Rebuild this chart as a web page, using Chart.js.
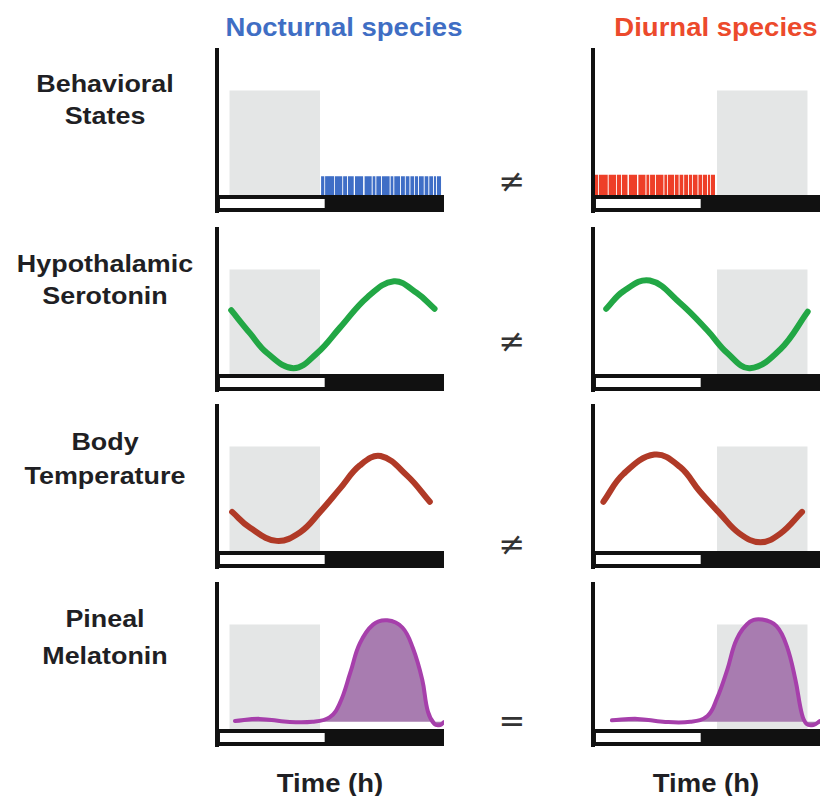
<!DOCTYPE html>
<html>
<head>
<meta charset="utf-8">
<script src="https://cdn.jsdelivr.net/npm/chart.js"></script>
<style>
  html, body { margin: 0; padding: 0; background: #fff; }
  #fig { position: relative; width: 822px; height: 796px; overflow: hidden;
         font-family: "Liberation Sans", Arial, sans-serif; }
  .t { position: absolute; width: 300px; text-align: center; font-weight: bold;
       white-space: nowrap; line-height: 1; transform: scaleX(1.12); color: #1f1f24; }
  .sym { position: absolute; width: 60px; text-align: center; font-family: "DejaVu Sans";
         font-size: 32px; line-height: 1; color: #333; }
  canvas { position: absolute; }
</style>
</head>
<body>
<div id="fig">
  <div class="t" style="left:194px;top:15px;font-size:25px;color:#3f6ec4;transform:scaleX(1.1)">Nocturnal species</div>
  <div class="t" style="left:566px;top:15px;font-size:25px;color:#ec4a2c;transform:scaleX(1.1)">Diurnal species</div>

  <div class="t" style="left:-45px;top:72px;font-size:24px">Behavioral</div>
  <div class="t" style="left:-45px;top:104px;font-size:24px">States</div>
  <div class="t" style="left:-45px;top:252px;font-size:24px">Hypothalamic</div>
  <div class="t" style="left:-45px;top:284px;font-size:24px">Serotonin</div>
  <div class="t" style="left:-45px;top:430px;font-size:24px">Body</div>
  <div class="t" style="left:-45px;top:464px;font-size:24px">Temperature</div>
  <div class="t" style="left:-45px;top:607px;font-size:24px">Pineal</div>
  <div class="t" style="left:-45px;top:644px;font-size:24px">Melatonin</div>

  <div class="sym" style="left:482px;top:165px">≠</div>
  <div class="sym" style="left:482px;top:325px">≠</div>
  <div class="sym" style="left:482px;top:528px">≠</div>
  <div class="sym" style="left:482px;top:705px">=</div>

  <div class="t" style="left:180px;top:771px;font-size:25px;transform:scaleX(1.1)">Time (h)</div>
  <div class="t" style="left:556px;top:771px;font-size:25px;transform:scaleX(1.1)">Time (h)</div>
</div>

<script>
// time axis in hours, value axis in arbitrary units (0 = top of light/dark bar)
const X_MAX = 24;
const Y_MIN = -11.7;
const Y_MAX = 100;

const LIGHT_PHASE = [0.3, 11.4];          // white part of the light/dark bar
const LIGHT_BOX_Y = [-2.8, -9];
const NOCT_SLEEP = [1.3, 10.9];
const DIUR_SLEEP = [13.1, 22.7];
const SLEEP_TOP = 72;

// wake activity bouts [start, end] in hours
const NOCT_WAKE = [
  [11.0, 11.37], [11.43, 12.37], [12.43, 13.27], [13.33, 13.77], [13.83, 14.47],
  [14.58, 15.47], [15.58, 16.37], [16.43, 16.77], [16.83, 17.37], [17.43, 18.27],
  [18.33, 18.67], [18.73, 19.37], [19.43, 19.87], [19.93, 20.37], [20.43, 20.87],
  [20.93, 21.27], [21.33, 21.87], [21.93, 22.37], [22.43, 22.87], [22.93, 23.17],
  [23.23, 23.7],
];
const DIUR_WAKE = [
  [0.2, 0.57], [0.63, 1.57], [1.63, 2.47], [2.53, 2.97], [3.03, 3.67],
  [3.78, 4.67], [4.78, 5.57], [5.63, 5.97], [6.03, 6.57], [6.63, 7.47],
  [7.53, 7.87], [7.93, 8.57], [8.63, 9.07], [9.13, 9.57], [9.63, 10.07],
  [10.13, 10.47], [10.53, 11.07], [11.13, 11.57], [11.63, 12.07], [12.13, 12.37],
  [12.43, 12.9],
];
const NOCT_WAKE_H = 13;
const DIUR_WAKE_H = 14;

// curves [hour, level]
const NOCT_SEROTONIN = [
  [1.5, 44], [3.5, 28], [5.3, 14.5], [8.1, 4], [10.6, 14.5],
  [13.0, 32], [15.9, 53], [18.7, 64], [21.1, 56], [23.0, 45],
];
const DIUR_SEROTONIN = [
  [1.4, 45], [3.2, 57], [6.0, 64.5], [9.2, 49], [12.1, 30],
  [14.2, 14.5], [16.6, 4], [19.8, 17], [22.7, 43],
];
const NOCT_TEMP = [
  [1.6, 27], [3.5, 16], [6.3, 7], [8.8, 13], [10.9, 27],
  [13.0, 43], [15.1, 59], [17.3, 65.5], [20.1, 52], [22.5, 34],
];
const DIUR_TEMP = [
  [1.1, 34], [3.2, 53], [6.5, 66.5], [9.2, 58], [11.3, 41],
  [13.4, 26], [15.5, 12], [17.7, 6], [19.8, 12], [22.1, 27],
];
const NOCT_MELATONIN = [
  [1.9, 5.5], [4.5, 7], [7.4, 5], [10.1, 5], [11.9, 8], [13.0, 18],
  [14.1, 39], [15.1, 59], [16.5, 72], [18.0, 75], [19.6, 70], [20.7, 56],
  [21.7, 34], [22.3, 12], [23.0, 3.4], [23.6, 2.8], [24.0, 4.8],
];
const DIUR_MELATONIN = [
  [2.0, 6], [4.7, 7], [7.4, 5], [10.3, 5], [12.1, 9], [13.1, 21],
  [14.2, 41], [15.2, 62], [16.6, 74], [17.9, 75.5], [19.4, 71], [20.5, 57],
  [21.4, 34], [22.1, 10], [22.6, 3.4], [23.3, 2.8], [24.0, 5.5],
];
const MELATONIN_BASE = 5;

const BLUE = "#3f6ec6";
const RED = "#ee3f28";
const GREEN = "#22a745";
const BROWN = "#b03a27";
const PURPLE = "#a63fab";
const PURPLE_FILL = "#a87cb0";
const GRAY = "#e4e6e6";

// panel layout: x of the y-axis line, y of the top of the light/dark bar
const COL_X = [217, 593];
const ROW_BAR_TOP = [195, 374, 551, 729];
const PAD = { left: 4, right: 2, top: 3, bottom: 2 };

function rect(x0, x1, y, fill, color, order) {
  return {
    data: [{ x: x0, y }, { x: x1, y }],
    fill,
    backgroundColor: color,
    borderWidth: 0,
    pointRadius: 0,
    order,
  };
}

function curve(pts, color, width, extra) {
  return Object.assign({
    data: pts.map(([x, y]) => ({ x, y })),
    borderColor: color,
    borderWidth: width,
    pointRadius: 0,
    fill: false,
    tension: 0.4,
    borderCapStyle: "round",
    borderJoinStyle: "round",
    order: 1,
  }, extra || {});
}

function baseSets(sleep) {
  return [
    rect(0, X_MAX, 0, "start", "#111", 6),
    rect(LIGHT_PHASE[0], LIGHT_PHASE[1], LIGHT_BOX_Y[0], "+1", "#fff", 4),
    rect(LIGHT_PHASE[0], LIGHT_PHASE[1], LIGHT_BOX_Y[1], false, "#fff", 5),
    rect(sleep[0], sleep[1], SLEEP_TOP, "origin", GRAY, 7),
  ];
}

const panels = [
  { row: 0, col: 0, sleep: NOCT_SLEEP, bouts: NOCT_WAKE, boutH: NOCT_WAKE_H, color: BLUE },
  { row: 0, col: 1, sleep: DIUR_SLEEP, bouts: DIUR_WAKE, boutH: DIUR_WAKE_H, color: RED },
  { row: 1, col: 0, sleep: NOCT_SLEEP, line: NOCT_SEROTONIN, color: GREEN, width: 6 },
  { row: 1, col: 1, sleep: DIUR_SLEEP, line: DIUR_SEROTONIN, color: GREEN, width: 6 },
  { row: 2, col: 0, sleep: NOCT_SLEEP, line: NOCT_TEMP, color: BROWN, width: 6 },
  { row: 2, col: 1, sleep: DIUR_SLEEP, line: DIUR_TEMP, color: BROWN, width: 6 },
  { row: 3, col: 0, sleep: NOCT_SLEEP, line: NOCT_MELATONIN, color: PURPLE, width: 4, melatonin: true },
  { row: 3, col: 1, sleep: DIUR_SLEEP, line: DIUR_MELATONIN, color: PURPLE, width: 4, melatonin: true },
];

const areaH = 162;
const areaW = 227;

panels.forEach((p) => {
  const canvas = document.createElement("canvas");
  canvas.width = areaW + PAD.left + PAD.right;
  canvas.height = areaH + PAD.top + PAD.bottom;
  canvas.style.left = (COL_X[p.col] - PAD.left) + "px";
  canvas.style.top = (ROW_BAR_TOP[p.row] - 145 - PAD.top) + "px";
  document.getElementById("fig").appendChild(canvas);

  const datasets = baseSets(p.sleep);
  if (p.bouts) {
    p.bouts.forEach(([s, e]) => datasets.push(rect(s, e, p.boutH, "origin", p.color, 2)));
  }
  if (p.line) {
    const extra = p.melatonin
      ? { fill: { value: MELATONIN_BASE }, backgroundColor: PURPLE_FILL }
      : {};
    datasets.push(curve(p.line, p.color, p.width, extra));
  }

  new Chart(canvas, {
    type: "line",
    data: { datasets },
    options: {
      responsive: false,
      animation: false,
      devicePixelRatio: 1,
      layout: { padding: PAD },
      plugins: { legend: { display: false }, tooltip: { enabled: false } },
      scales: {
        x: { type: "linear", min: 0, max: X_MAX, display: false },
        y: {
          min: Y_MIN,
          max: Y_MAX,
          ticks: { display: false },
          grid: { display: false, drawTicks: false },
          border: { display: true, color: "#111", width: 4 },
          afterFit: (s) => { s.width = 0; },
        },
      },
    },
  });
});
</script>
</body>
</html>
